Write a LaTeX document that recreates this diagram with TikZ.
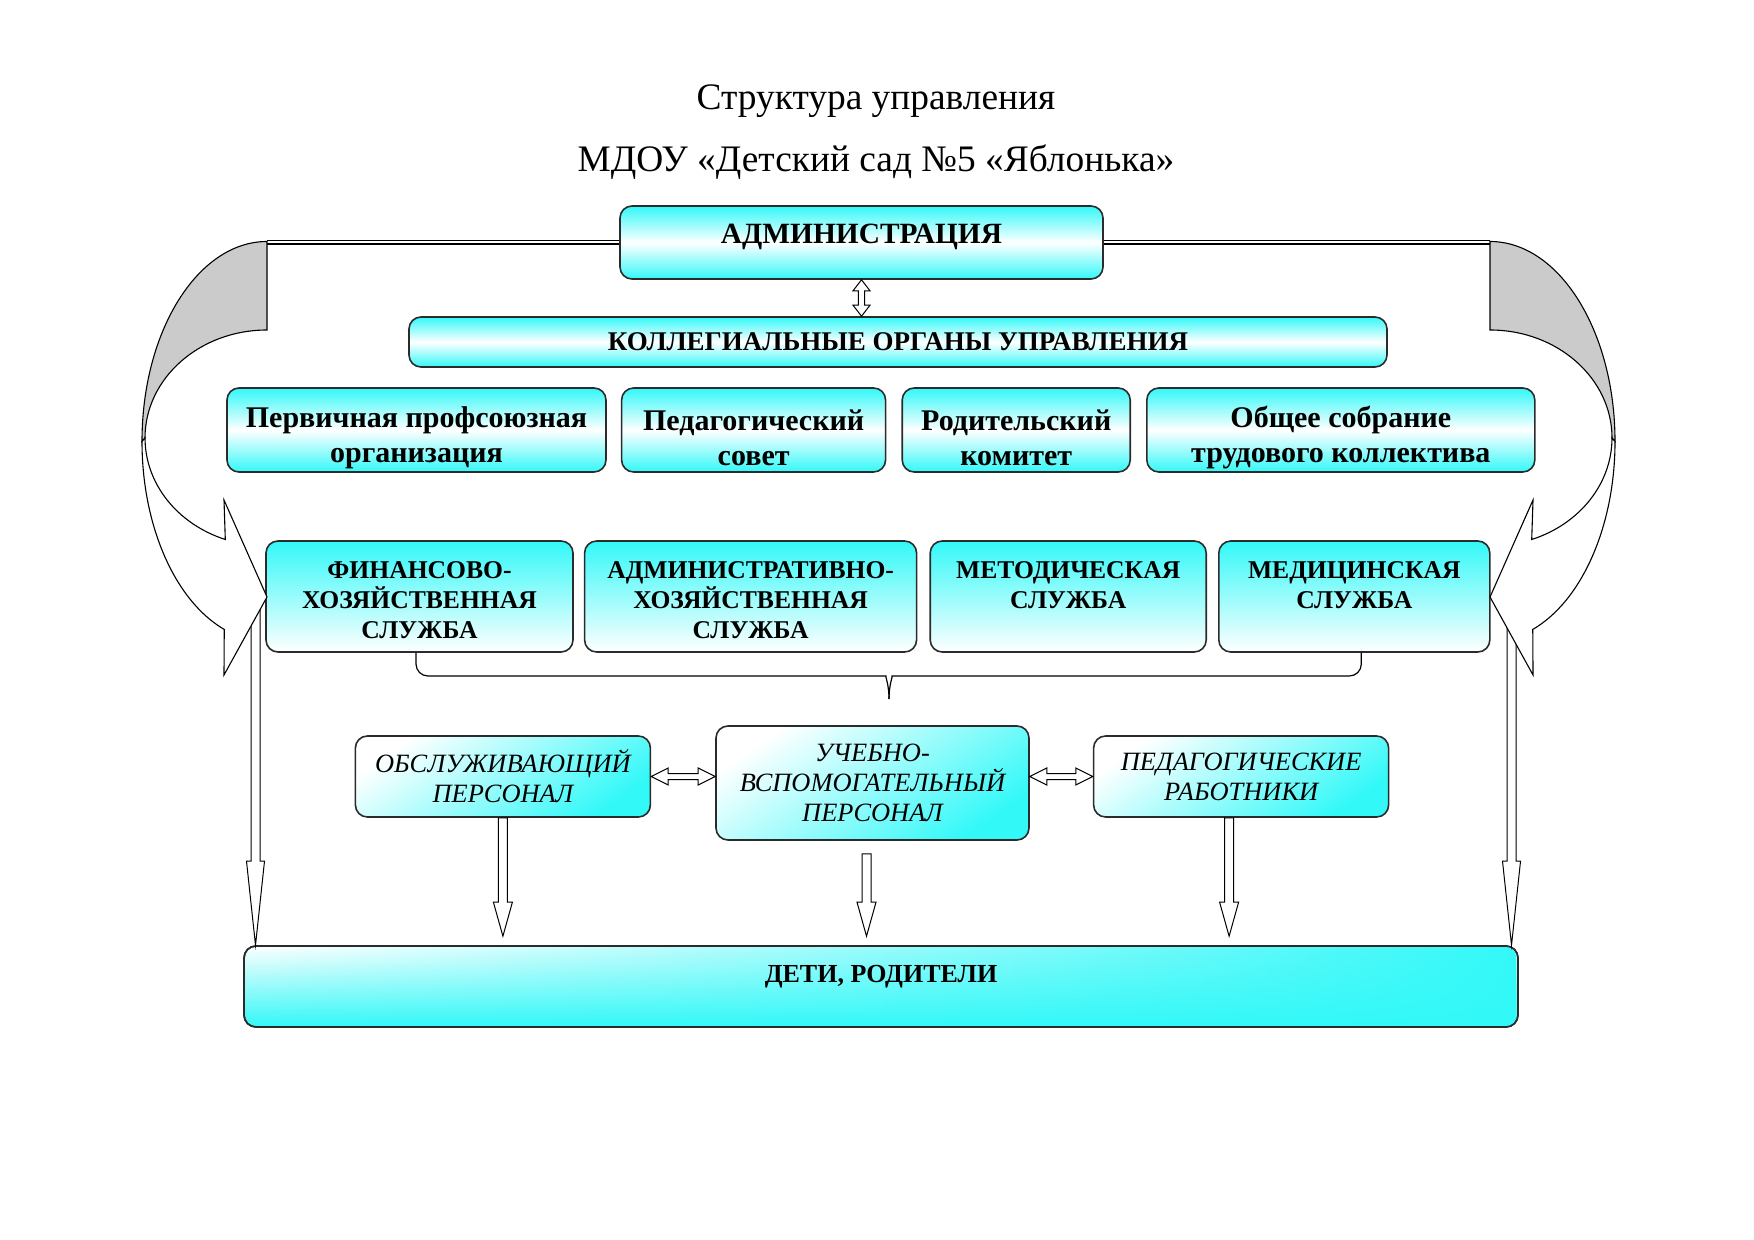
\documentclass[tikz,border=0pt]{standalone}
\usepackage{fontspec}
\setmainfont{Liberation Serif}
\usepackage{tikz}
\usetikzlibrary{positioning,calc,fadings}
\definecolor{boxcyan}{HTML}{33F8F8}
\definecolor{boxline}{HTML}{2B2B2B}
\definecolor{backgrey}{HTML}{CBCBCB}
\tikzfading[name=tocyan, left color=transparent!100, middle color=transparent!85, right color=transparent!0]
\newcommand{\liftb}{\rule{0pt}{18.3pt}}% lowers the text of a body box
\newcommand{\lifts}{\rule{0pt}{12pt}}% lowers the text of a service box
\tikzset{
  box/.style   = {rounded corners=6pt, draw=boxline, line width=0.8pt, align=center, inner sep=1pt},
  band/.style  = {box, top color=boxcyan, bottom color=boxcyan, middle color=white,
                  font=\fontsize{15}{17.3}\selectfont\bfseries},
  body/.style  = {band, minimum height=42pt},
  svc/.style   = {box, top color=boxcyan, bottom color=white, minimum height=55.5pt,
                  font=\fontsize{12.8}{15}\selectfont\bfseries},
  staff/.style = {box, top color=white, bottom color=boxcyan, shading angle=35,
                  font=\fontsize{13.2}{15}\selectfont\itshape},
  ttl/.style   = {font=\fontsize{18.7}{22}\selectfont, anchor=base},
  blk/.style   = {draw=black, fill=white, line width=0.5pt},
  dbl/.style   = {draw=black, double=white, double distance=1pt, line width=0.55pt},
  brc/.style   = {draw=black, line width=0.6pt},
  curvarr/.style = {draw=black, line width=0.55pt},
}
% hollow block arrows: from, to, shaft half width, head half width, head length
\newcommand{\blkdown}[5]{%
  \draw[blk] let \p1=(#1), \p2=(#2) in
    (\x1-#3,\y1) -- (\x1-#3,\y2+#5) -- (\x1-#4,\y2+#5) -- (\x1,\y2)
    -- (\x1+#4,\y2+#5) -- (\x1+#3,\y2+#5) -- (\x1+#3,\y1) -- cycle;}
\newcommand{\blkud}[5]{%
  \draw[blk] let \p1=(#1), \p2=(#2) in
    (\x1,\y1) -- (\x1+#4,\y1-#5) -- (\x1+#3,\y1-#5) -- (\x1+#3,\y2+#5) -- (\x1+#4,\y2+#5)
    -- (\x1,\y2) -- (\x1-#4,\y2+#5) -- (\x1-#3,\y2+#5) -- (\x1-#3,\y1-#5) -- (\x1-#4,\y1-#5) -- cycle;}
\newcommand{\blklr}[5]{%
  \draw[blk] let \p1=(#1), \p2=(#2) in
    (\x1,\y1) -- (\x1+#5,\y1+#4) -- (\x1+#5,\y1+#3) -- (\x2-#5,\y1+#3) -- (\x2-#5,\y1+#4)
    -- (\x2,\y1) -- (\x2-#5,\y1-#4) -- (\x2-#5,\y1-#3) -- (\x1+#5,\y1-#3) -- (\x1+#5,\y1-#4) -- cycle;}

\begin{document}
\begin{tikzpicture}[x=0.5pt, y=-0.5pt]
  \useasboundingbox (0,0) rectangle (1754,1240);

  \node[ttl] (ttl1) at (876,110) {Структура управления};
  \node[ttl] (ttl2) at (876,172) {МДОУ «Детский сад №5 «Яблонька»};

  % --- administration and collegial bodies ---
  \node[band, minimum width=241.5pt, minimum height=36.5pt, text height=9.7pt, text depth=8.7pt,
        font=\fontsize{14.7}{17}\selectfont\bfseries] (admin) at (861.5,242.5) {АДМИНИСТРАЦИЯ};
  \node[band, minimum width=489pt, minimum height=25pt,
        font=\fontsize{13.5}{16}\selectfont\bfseries] (coll) at (898,342) {КОЛЛЕГИАЛЬНЫЕ ОРГАНЫ УПРАВЛЕНИЯ};

  \node[body, minimum width=189.5pt] (union) at (416.5,430) {\liftb Первичная профсоюзная\\организация};
  \node[body, minimum width=132pt, right=7pt of union] (pedsov) {\liftb Педагогический\\совет};
  \node[body, minimum width=114pt, right=7.5pt of pedsov] (parcom) {\liftb Родительский\\комитет};
  \node[body, minimum width=194pt, right=7.5pt of parcom] (meet) {\liftb Общее собрание\\трудового коллектива};

  % --- services ---
  \node[svc, minimum width=153.5pt] (fin) at (419.5,596.5) {\lifts ФИНАНСОВО-\\ХОЗЯЙСТВЕННАЯ\\СЛУЖБА};
  \node[svc, minimum width=166pt, right=5pt of fin] (admhoz) {\lifts АДМИНИСТРАТИВНО-\\ХОЗЯЙСТВЕННАЯ\\СЛУЖБА};
  \node[svc, minimum width=138pt, right=6pt of admhoz] (metod) {\lifts МЕТОДИЧЕСКАЯ\\СЛУЖБА\\\mbox{}};
  \node[svc, minimum width=135.5pt, right=5.5pt of metod] (med) {\lifts МЕДИЦИНСКАЯ\\СЛУЖБА\\\mbox{}};

  % --- staff ---
  \node[staff, minimum width=156.5pt, minimum height=57pt] (ucheb) at (872.5,783) {УЧЕБНО-\\ВСПОМОГАТЕЛЬНЫЙ\\ПЕРСОНАЛ};
  \node[staff, minimum width=147.5pt, minimum height=40.5pt, left=32pt of ucheb, yshift=3.25pt] (obsl) {ОБСЛУЖИВАЮЩИЙ\\ПЕРСОНАЛ};
  \node[staff, minimum width=147.5pt, minimum height=40.5pt, right=31.5pt of ucheb, yshift=3.25pt] (pedrab) {ПЕДАГОГИЧЕСКИЕ\\РАБОТНИКИ};

  \node[box, top color=white, bottom color=boxcyan,
        postaction={fill=boxcyan, path fading=tocyan}, postaction={draw=boxline, line width=0.8pt},
        font=\fontsize{13}{15}\selectfont\bfseries, minimum width=637pt, minimum height=40.5pt,
        text height=8.6pt, text depth=13pt] (deti) at (881,986.5) {ДЕТИ, РОДИТЕЛИ};

  % --- lines from the administration ---
  \coordinate (ltop) at (267,242.5);
  \coordinate (rtop) at (1490,242.5);
  \draw[dbl] (admin.west) -- (ltop);
  \draw[dbl] (admin.east) -- (rtop);

  \coordinate (lfoot) at (255.5,600);
  \coordinate (rfoot) at (1511.5,600);
  \blkdown{lfoot}{lfoot |- deti.north}{2.25pt}{4.5pt}{42pt}
  \blkdown{rfoot}{rfoot |- deti.north}{2.25pt}{4.5pt}{42pt}

  % --- bent arrows, left and mirrored right ---
  \foreach \xo/\sx in {0/1, 1757/-1}{
    \begin{scope}[shift={(\xo,0)}, xscale=\sx]
      \draw[curvarr, fill=backgrey] (267,241.5) arc[start angle=270, end angle=180, x radius=125, y radius=200]
        -- (145,438) arc[start angle=180, end angle=270, x radius=122, y radius=108] -- cycle;
      \draw[curvarr, fill=white] (142,441.5) arc[start angle=180, end angle=110, x radius=125, y radius=200]
        -- (224,675) -- (267,597) -- (224,500) -- (225.3,539.5)
        arc[start angle=110, end angle=180, x radius=122, y radius=108] -- cycle;
    \end{scope}
  }

  \blkud{admin.south}{admin.south |- coll.north}{1.6pt}{4.25pt}{5.5pt}
  \blklr{obsl.east}{ucheb.west}{1.5pt}{4.25pt}{8.5pt}
  \blklr{ucheb.east |- pedrab.west}{pedrab.west}{1.5pt}{4.25pt}{8.5pt}

  % --- brace under the services ---
  \coordinate (brl) at ($(fin.south)+(-3.5,0)$);
  \coordinate (brr) at ($(med.south)+(7,0)$);
  \coordinate (brtip) at (889,699);
  \draw[brc] (brl) [rounded corners=6pt] |- (874,676) [sharp corners] .. controls (885,676) and (889,684) .. (brtip);
  \draw[brc] (brr) [rounded corners=6pt] |- (904,676) [sharp corners] .. controls (893,676) and (889,684) .. (brtip);

  % --- staff to children ---
  \coordinate (dtop) at ($(deti.north)+(0,-9)$);
  \coordinate (uchfoot) at ($(ucheb.south)+(-6,13)$);
  \coordinate (pedfoot) at ($(pedrab.south)+(-12,0)$);
  \blkdown{obsl.south}{dtop}{2.25pt}{4.75pt}{17pt}
  \blkdown{uchfoot}{dtop}{2.25pt}{4.75pt}{17pt}
  \blkdown{pedfoot}{dtop}{2.25pt}{4.75pt}{17pt}
\end{tikzpicture}
\end{document}
